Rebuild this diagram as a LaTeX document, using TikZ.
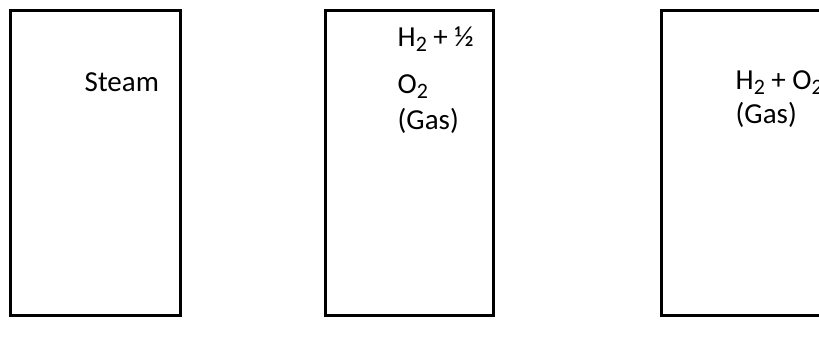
\documentclass[tikz,border=0pt]{standalone}
\usepackage{fontspec}
\setmainfont{Carlito}
\newcommand{\sbs}[1]{\raisebox{-5pt}{\fontsize{22}{22}\selectfont #1}}
\begin{document}
\begin{tikzpicture}[x=1pt,y=-1pt,
  box/.style={draw, line width=3pt, inner sep=0pt, outer sep=0pt, anchor=north west, minimum height=304.8pt},
  lbl/.style={anchor=base west, inner sep=0pt, font=\fontsize{29}{35}\selectfont}]
\useasboundingbox (0,0) rectangle (819,347);
\clip (0,0) rectangle (819,347);
\fill[white] (0,0) rectangle (819,347);
\node[box, minimum width=170.7pt] (b1) at (10,10.5) {};
\node[box, minimum width=168pt] (b2) at (325.3,10.5) {};
\node[box, minimum width=200pt] (b3) at (661.3,10.5) {};
\node[lbl] (t1) at (84.5,91.5) {Steam};
\node[lbl] (t2a) at (397.5,46.7) {H\sbs{2} + ½};
\node[lbl] (t2b) at (397.5,93.3) {O\sbs{2}};
\node[lbl] (t2c) at (397.5,130) {(Gas)};
\node[lbl] (t3a) at (735.5,90) {H\sbs{2} + O\sbs{2}};
\node[lbl] (t3b) at (735.5,123.5) {(Gas)};
\end{tikzpicture}
\end{document}
